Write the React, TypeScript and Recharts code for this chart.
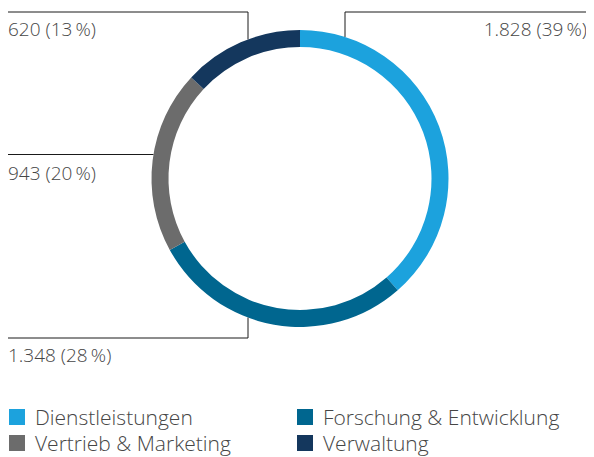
import React from "react";
import { PieChart, Pie, Cell } from "recharts";

const categories = [
  "Dienstleistungen",
  "Forschung & Entwicklung",
  "Vertrieb & Marketing",
  "Verwaltung",
];
const values = [1828, 1348, 943, 620];
const colors = ["#1ca2dd", "#00668f", "#6c6c6c", "#14375d"];

const data = categories.map((name, i) => ({ name, value: values[i] }));
const total = values.reduce((a, b) => a + b, 0);

const FONT = "'Open Sans', Lato, sans-serif";
const TEXT = "#464646";

const fmt = (n: number) => String(n).replace(/\B(?=(\d{3})+(?!\d))/g, ".");

// leader line setup per slice: where it leaves the ring and where it ends
const leaders = [
  { kind: "vertical", dx: 45, y: 12, endX: 591, anchor: "end" },
  { kind: "vertical", dx: -52, y: 338, endX: 8, anchor: "start" },
  { kind: "horizontal", dy: -24, endX: 8, anchor: "start" },
  { kind: "vertical", dx: -52, y: 12, endX: 8, anchor: "start" },
];

const renderLabel = (props: any) => {
  const { cx, cy, outerRadius, index, value } = props;
  const l: any = leaders[index];
  const pct = Math.round((value / total) * 100);
  const text = `${fmt(value)} (${pct}\u2009%)`;
  let points: string;
  let ty: number;
  if (l.kind === "vertical") {
    const x = cx + l.dx;
    const off = Math.sqrt(outerRadius * outerRadius - l.dx * l.dx);
    const y0 = l.y < cy ? cy - off : cy + off;
    points = `${x},${y0} ${x},${l.y} ${l.endX},${l.y}`;
    ty = l.y + 24;
  } else {
    const y = cy + l.dy;
    const off = Math.sqrt(outerRadius * outerRadius - l.dy * l.dy);
    const x0 = cx - off;
    points = `${x0},${y} ${l.endX},${y}`;
    ty = y + 25;
  }
  const tx = l.anchor === "end" ? l.endX - 4 : l.endX;
  return (
    <g key={`lbl-${index}`}>
      <polyline points={points} fill="none" stroke="#1a1a1a" strokeWidth={1} />
      <text
        x={tx}
        y={ty}
        textAnchor={l.anchor}
        fill={TEXT}
        fontSize={19}
        fontWeight={300}
        fontFamily={FONT}
      >
        {text}
      </text>
    </g>
  );
};

export default function App() {
  return (
    <div
      style={{
        marginTop: -8,
        marginLeft: -8,
        width: 594,
        height: 457,
        background: "#fff",
        position: "relative",
      }}
    >
      <PieChart
        width={594}
        height={400}
        margin={{ top: 0, right: 0, bottom: 0, left: 0 }}
      >
        <Pie
          data={data}
          dataKey="value"
          nameKey="name"
          cx={300}
          cy={178.5}
          innerRadius={131.5}
          outerRadius={148.5}
          startAngle={90}
          endAngle={-270}
          stroke="none"
          label={renderLabel}
          labelLine={false}
          isAnimationActive={false}
        >
          {data.map((d, i) => (
            <Cell key={d.name} fill={colors[i]} />
          ))}
        </Pie>
      </PieChart>
      <div
        style={{
          position: "absolute",
          left: 9,
          top: 404,
          display: "grid",
          gridTemplateColumns: "288px 290px",
          fontFamily: FONT,
          fontWeight: 300,
          fontSize: 21,
          color: TEXT,
          lineHeight: "26px",
        }}
      >
        {[0, 1, 2, 3].map((i) => (
          <div key={i} style={{ display: "flex", alignItems: "center", height: 26 }}>
            <span
              style={{
                display: "inline-block",
                width: 16,
                height: 16,
                background: colors[i],
                marginRight: 10,
                flexShrink: 0,
              }}
            />
            {categories[i]}
          </div>
        ))}
      </div>
    </div>
  );
}
